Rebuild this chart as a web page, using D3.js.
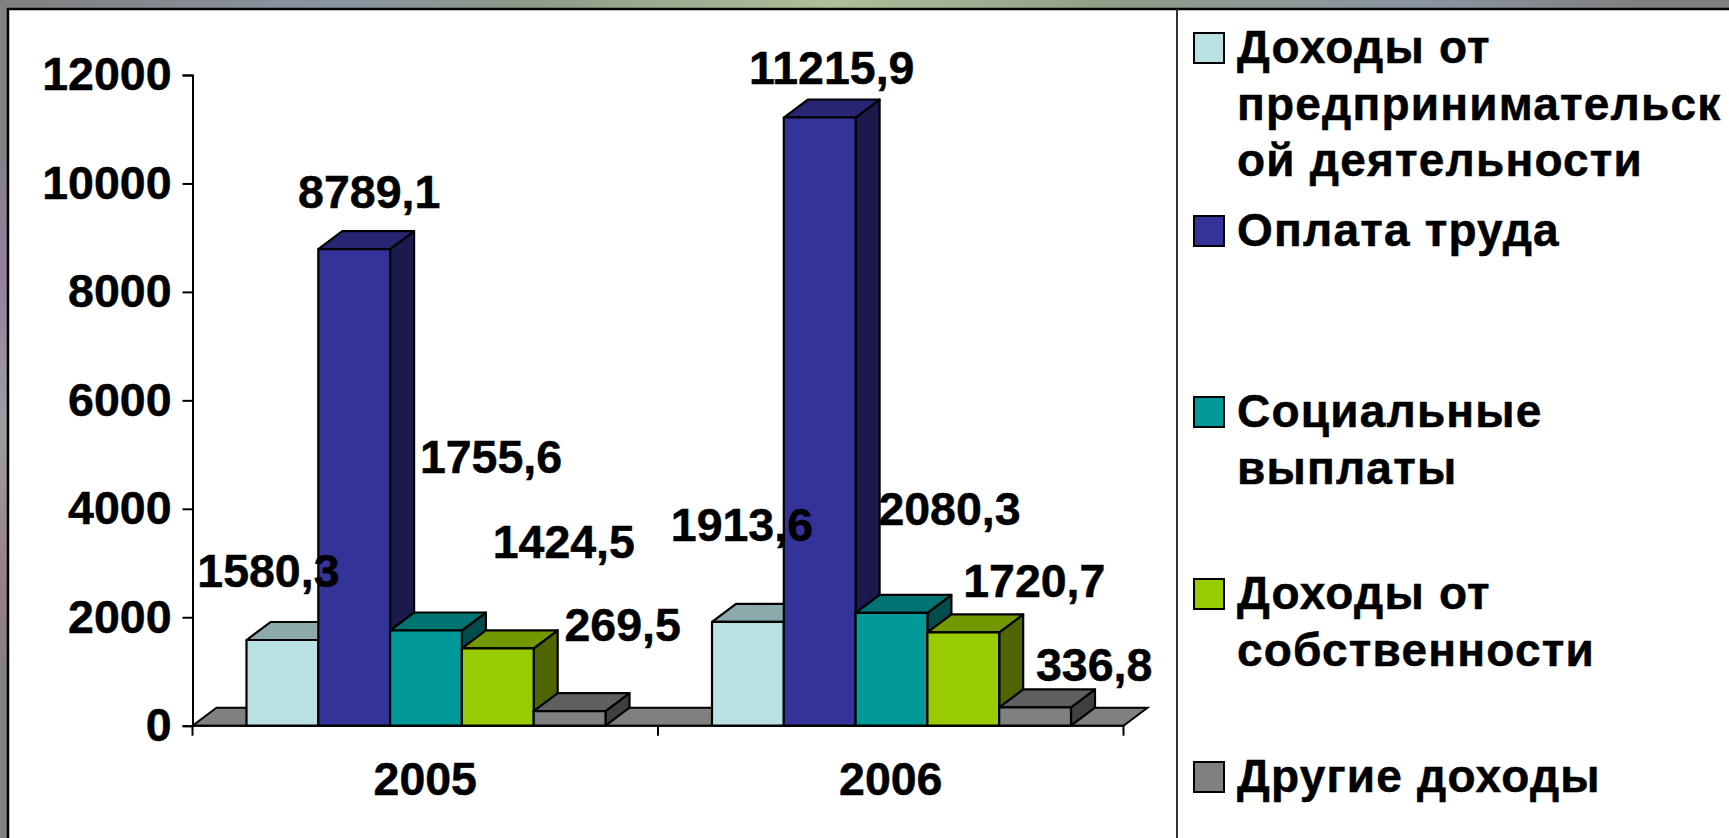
<!DOCTYPE html>
<html>
<head>
<meta charset="utf-8">
<script src="https://cdn.jsdelivr.net/npm/d3@7"></script>
<style>
    html, body { margin: 0; padding: 0; background: #fff; overflow: hidden; }
    svg { display: block; }
    text { font-family: "Liberation Sans", Arial, sans-serif; font-weight: bold; fill: #000; stroke: #000; stroke-width: 0.5px; }
</style>
</head>
<body>
<svg></svg>
<script>
const years = ["2005", "2006"];
const seriesNames = ["Доходы от предпринимательской деятельности", "Оплата труда", "Социальные выплаты", "Доходы от собственности", "Другие доходы"];
const values2005 = [1580.3, 8789.1, 1755.6, 1424.5, 269.5];
const values2006 = [1913.6, 11215.9, 2080.3, 1720.7, 336.8];
const yTicks = [0, 2000, 4000, 6000, 8000, 10000, 12000];
const legendLines = [
    ["Доходы от", "предпринимательск", "ой деятельности"],
    ["Оплата труда"],
    ["Социальные", "выплаты"],
    ["Доходы от", "собственности"],
    ["Другие доходы"]
];
const frontColors = ["#b9e0e3", "#333399", "#009999", "#99cc00", "#808080"];
const topColors = ["#8ca9ab", "#262673", "#007373", "#739900", "#606060"];
const sideColors = ["#5d7071", "#1a1a4d", "#004d4d", "#4d6600", "#404040"];

// label nudges from the bar's top centre, the source chart had them dragged by hand
const labelNudge2005 = [[-14, -69], [15, -57], [65, -174], [66, -106], [53, -86]];
const labelNudge2006 = [[-6, -97], [12, -50], [58, -104], [71, -51], [59, -42]];

const width = 1729, height = 838;
const svg = d3.select("svg").attr("width", width).attr("height", height);

const dx = 24, dy = 18;
const x0 = d3.scaleBand().domain(years).range([192.5, 1123.5]);
const x1 = d3.scaleBand().domain(seriesNames).range([54, 413]);
const y = d3.scaleLinear().domain([0, 12000]).range([725.7, 75]);

// frame of the slide
const defs = svg.append("defs");
const topGrad = defs.append("linearGradient").attr("id", "topGrad");
topGrad.selectAll("stop")
    .data([[0, "#808080"], [0.2, "#8a95a3"], [0.3, "#8c9a88"], [0.48, "#aebf98"], [0.65, "#8f9c88"], [0.82, "#8a95a3"], [0.95, "#808080"], [1, "#808080"]])
    .enter().append("stop")
    .attr("offset", d => d[0]).attr("stop-color", d => d[1]);
const leftGrad = defs.append("linearGradient").attr("id", "leftGrad")
    .attr("x1", 0).attr("x2", 0).attr("y1", 0).attr("y2", 1);
leftGrad.selectAll("stop")
    .data([[0, "#808080"], [0.14, "#808080"], [0.32, "#957f9e"], [0.51, "#9f9da3"], [0.69, "#997f88"], [0.83, "#808080"], [1, "#808080"]])
    .enter().append("stop")
    .attr("offset", d => d[0]).attr("stop-color", d => d[1]);

svg.append("rect").attr("width", width).attr("height", 8).attr("fill", "url(#topGrad)");
svg.append("rect").attr("width", 7).attr("height", height).attr("fill", "url(#leftGrad)");
svg.append("path").attr("d", `M8,${height}V9H${width}`)
    .attr("fill", "none").attr("stroke", "#000").attr("stroke-width", 2.5);
svg.append("line").attr("x1", 1177).attr("x2", 1177).attr("y1", 9).attr("y2", height)
    .attr("stroke", "#333").attr("stroke-width", 2);

// floor of the 3D plot
const floorRight = x0.range()[1];
const base = y(0);
svg.append("path")
    .attr("d", `M${x0.range()[0]},${base}l${dx},${-dy}H${floorRight + dx}l${-dx},${dy}Z`)
    .attr("fill", "#808080").attr("stroke", "#000").attr("stroke-width", 2);

// axes
const yAxis = d3.axisLeft(y).tickValues(yTicks).tickSize(10).tickPadding(11).tickFormat(d => d);
const gy = svg.append("g").attr("transform", "translate(192.5,0)").call(yAxis);
gy.selectAll("text").style("font-size", "46.5px");
gy.selectAll("line, path").attr("stroke", "#000").attr("stroke-width", 2);

const xAxis = d3.axisBottom(x0).tickSize(0).tickPadding(36);
const gx = svg.append("g").attr("transform", `translate(0,${base})`).call(xAxis);
gx.select(".domain").remove();
gx.selectAll("text").style("font-size", "46.5px").attr("dy", "0.71em");
gx.selectAll(".sep")
    .data(x0.domain().map(d => x0(d)).concat(x0.range()[1]))
    .enter().append("line")
    .attr("class", "sep")
    .attr("x1", d => d).attr("x2", d => d)
    .attr("y1", 0).attr("y2", 10)
    .attr("stroke", "#000").attr("stroke-width", 2);
gx.append("line").attr("x1", x0.range()[0]).attr("x2", floorRight)
    .attr("stroke", "#000").attr("stroke-width", 2);

// bars, drawn back to front so neighbours hide the side faces
const rows = [
    { year: "2005", values: values2005, nudge: labelNudge2005 },
    { year: "2006", values: values2006, nudge: labelNudge2006 }
];
const bars = [];
rows.forEach(function (row) {
    row.values.forEach(function (v, i) {
        bars.push({ year: row.year, i: i, value: v, nudge: row.nudge[i] });
    });
});

const barG = svg.selectAll(".bar")
    .data(bars)
    .enter().append("g")
    .attr("class", "bar")
    .attr("stroke", "#000")
    .attr("stroke-width", 2.2)
    .attr("stroke-linejoin", "round");

function barLeft(d) { return x0(d.year) + x1(seriesNames[d.i]); }

barG.append("path")
    .attr("fill", d => sideColors[d.i])
    .attr("d", function (d) {
        const r = barLeft(d) + x1.bandwidth();
        return `M${r},${y(d.value)}l${dx},${-dy}V${base - dy}l${-dx},${dy}Z`;
    });
barG.append("path")
    .attr("fill", d => topColors[d.i])
    .attr("d", function (d) {
        return `M${barLeft(d)},${y(d.value)}l${dx},${-dy}h${x1.bandwidth()}l${-dx},${dy}Z`;
    });
barG.append("rect")
    .attr("fill", d => frontColors[d.i])
    .attr("x", barLeft)
    .attr("y", d => y(d.value))
    .attr("width", x1.bandwidth())
    .attr("height", d => base - y(d.value));

// value labels
svg.selectAll(".value")
    .data(bars)
    .enter().append("text")
    .attr("class", "value")
    .attr("text-anchor", "middle")
    .attr("dominant-baseline", "central")
    .style("font-size", "46.5px")
    .attr("x", d => barLeft(d) + x1.bandwidth() / 2 + d.nudge[0])
    .attr("y", d => y(d.value) + d.nudge[1])
    .text(d => String(d.value).replace(".", ","));

// legend
const legendTops = [33, 216, 397, 579, 762];
const legend = svg.selectAll(".legend")
    .data(legendLines)
    .enter().append("g")
    .attr("class", "legend")
    .attr("transform", (d, i) => `translate(1194,${legendTops[i]})`);
legend.append("rect")
    .attr("width", 30).attr("height", 30)
    .attr("fill", (d, i) => frontColors[i])
    .attr("stroke", "#000").attr("stroke-width", 2);
legend.selectAll("text")
    .data(d => d)
    .enter().append("text")
    .attr("x", 43)
    .attr("y", (d, i) => 14 + i * 56.5)
    .attr("dominant-baseline", "central")
    .style("font-size", "46px")
    .style("letter-spacing", "1.2px")
    .text(d => d);
</script>
</body>
</html>
